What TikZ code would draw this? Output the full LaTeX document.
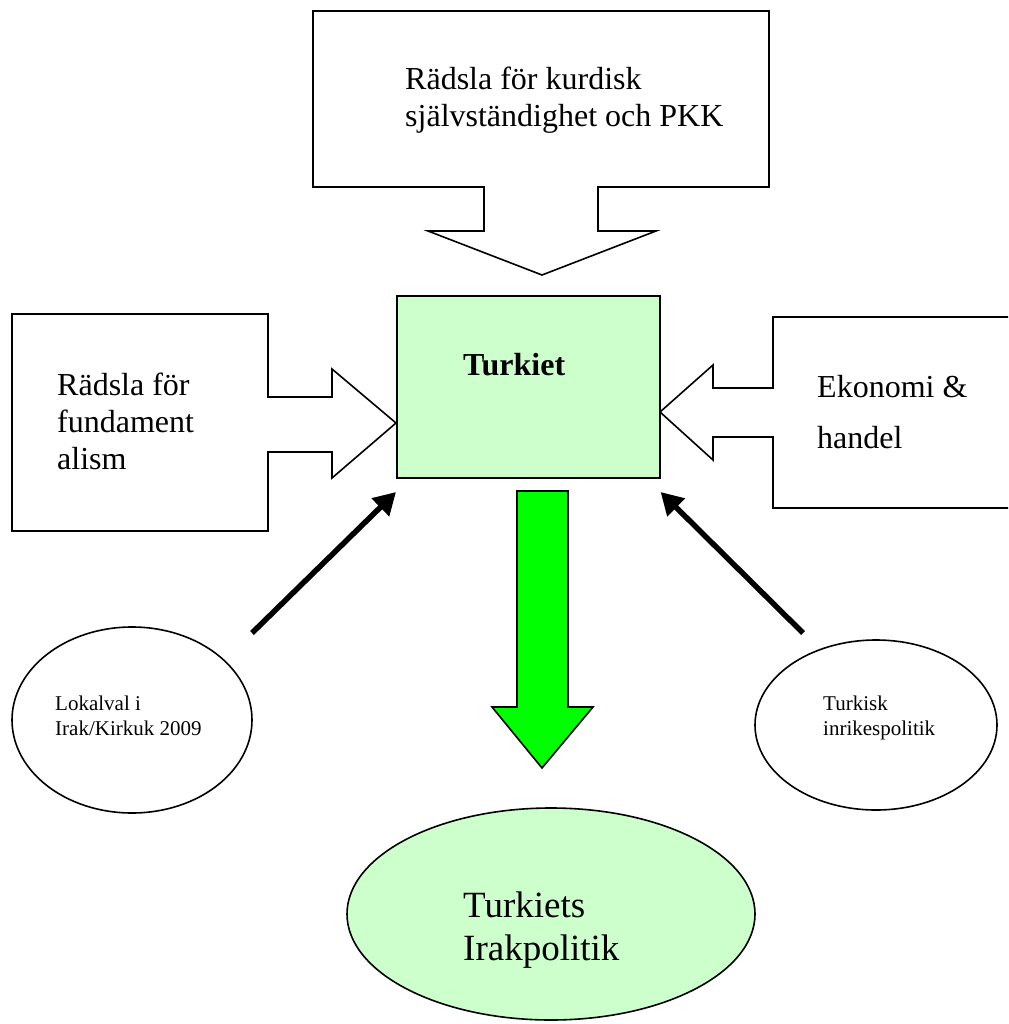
\documentclass[tikz,border=0pt]{standalone}
\usepackage{fontspec}
\setmainfont{Liberation Serif}
\usetikzlibrary{arrows.meta,shapes.geometric}
\definecolor{lgreen}{HTML}{CCFFCC}
\definecolor{bgreen}{HTML}{00FF00}
\tikzset{
  outline/.style={draw=black, line width=1.6pt, line join=miter},
  bigtxt/.style={inner sep=0pt, anchor=base west, align=left, font=\fontsize{32}{37}\selectfont},
  smalltxt/.style={inner sep=0pt, anchor=base west, align=left, font=\fontsize{21}{25}\selectfont},
  oval/.style={outline, ellipse, inner sep=0pt},
  infl/.style={line width=5.5pt, -{Triangle[length=22pt,width=24pt]}}
}
\begin{document}
\begin{tikzpicture}[x=1pt,y=-1pt]
\useasboundingbox (0,0) rectangle (1008,1024);
\clip (0,0) rectangle (1008,1024);

% top callout
\draw[outline] (313,11) -- (769,11) -- (769,187) -- (598,187) -- (598,231) -- (656,231)
  -- (542,275) -- (428,231) -- (484,231) -- (484,187) -- (313,187) -- cycle;
\node[bigtxt] (kurd) at (405,127) {Rädsla för kurdisk\\självständighet och PKK};

% left callout
\draw[outline] (12,314) -- (268,314) -- (268,397) -- (332,397) -- (332,369) -- (396,423)
  -- (332,478) -- (332,452) -- (268,452) -- (268,531) -- (12,531) -- cycle;
\node[bigtxt] (fund) at (57,469) {Rädsla för\\fundament\\alism};

% right callout
\draw[outline] (1015,317) -- (773,317) -- (773,388) -- (713,388) -- (713,365) -- (660,412)
  -- (713,460) -- (713,437) -- (773,437) -- (773,508) -- (1015,508);
\node[bigtxt, font=\fontsize{32}{51}\selectfont] (ekon) at (817,448) {Ekonomi \&\\handel};

% central box
\node[outline, fill=lgreen, minimum width=263pt, minimum height=182pt, anchor=north west, inner sep=0pt] (turkiet) at (396,295) {};
\node[inner sep=0pt, anchor=base west, font=\fontsize{32}{37}\selectfont\bfseries] (turklabel) at (463,375) {Turkiet};

% green arrow
\draw[outline, fill=bgreen] (517,491) -- (568,491) -- (568,707) -- (593,707) -- (542,768)
  -- (492,707) -- (517,707) -- cycle;

% ellipses
\node[oval, minimum width=240pt, minimum height=186pt] (lokal) at (132,720) {};
\node[smalltxt] (lokaltxt) at (55,735) {Lokalval i\\Irak/Kirkuk 2009};

\node[oval, minimum width=242pt, minimum height=170pt] (inrik) at (876,725) {};
\node[smalltxt] (inriktxt) at (823,735) {Turkisk\\inrikespolitik};

\node[oval, fill=lgreen, minimum width=408pt, minimum height=212pt] (irak) at (551,914) {};
\node[inner sep=0pt, anchor=base west, align=left, font=\fontsize{37}{43}\selectfont] (iraktxt) at (463,960) {Turkiets\\Irakpolitik};

% black influence arrows
\coordinate (s1) at (252,633);
\coordinate (s2) at (803,633);
\draw[infl] (s1) -- (turkiet.south west |- 0,492);
\draw[infl] (s2) -- (turkiet.south east |- 0,492);
\end{tikzpicture}
\end{document}
